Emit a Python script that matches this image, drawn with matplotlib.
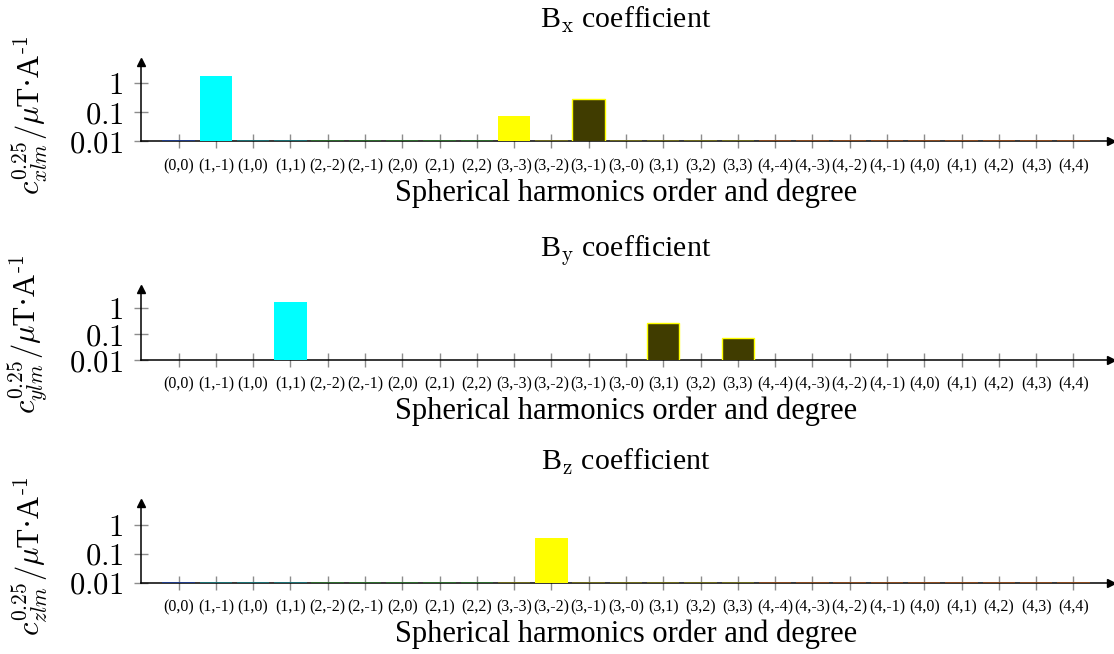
import numpy as np
import matplotlib
matplotlib.use("Agg")
import matplotlib.pyplot as plt

plt.rcParams['font.family'] = ['Liberation Serif', 'DejaVu Serif']
plt.rcParams['mathtext.fontset'] = 'cm'

# harmonics (l, m) labels
labels = ['(0,0)', '(1,-1)', '(1,0)', '(1,1)', '(2,-2)', '(2,-1)', '(2,0)', '(2,1)', '(2,2)',
          '(3,-3)', '(3,-2)', '(3,-1)', '(3,-0)', '(3,1)', '(3,2)', '(3,3)',
          '(4,-4)', '(4,-3)', '(4,-2)', '(4,-1)', '(4,0)', '(4,1)', '(4,2)', '(4,3)', '(4,4)']
degree = [0, 1, 1, 1, 2, 2, 2, 2, 2, 3, 3, 3, 3, 3, 3, 3, 4, 4, 4, 4, 4, 4, 4, 4, 4]

# coefficient values (tiny ones sit on the baseline)
tiny = 0.0108
bx = [tiny] * 25
bx[1] = 1.7
bx[9] = 0.073
bx[11] = 0.27
by = [0.0] * 25
by[3] = 1.8
by[13] = 0.28
by[15] = 0.069
bz = [tiny] * 25
bz[10] = 0.36

degree_colors = ['#1f3c88', '#1b6f72', '#2d6b2d', '#6e6a1c', '#8a4a1e']
highlight = {'cyan': '#00ffff', 'yellow': '#ffff00', 'dark': '#403c00'}

bx_col = [degree_colors[d] for d in degree]
bx_col[1], bx_col[9], bx_col[11] = highlight['cyan'], highlight['yellow'], highlight['dark']
by_col = [degree_colors[d] for d in degree]
by_col[3], by_col[13], by_col[15] = highlight['cyan'], highlight['dark'], highlight['dark']
bz_col = [degree_colors[d] for d in degree]
bz_col[10] = highlight['yellow']

panels = [
    ('x', bx, bx_col, [0.1268, 0.7839, 0.8702, 0.1217], 5.2),
    ('y', by, by_col, [0.1268, 0.4495, 0.8702, 0.1086], 5.6),
    ('z', bz, bz_col, [0.1268, 0.1090, 0.8702, 0.1214], 5.7),
]

ytick_vals = [0.01, 0.1, 1]
ytick_labels = ['$0.01$', '$0.1$', '$1$']

fig = plt.figure(figsize=(11.14, 6.54), dpi=100)
x = np.arange(len(labels))

for comp, vals, cols, rect, ymax in panels:
    ax = fig.add_axes(rect)
    ax.set_yscale('log')
    edges = ['#ffff00' if c == highlight['dark'] else 'none' for c in cols]
    ax.bar(x, vals, width=0.87, color=cols, edgecolor=edges, linewidth=1.0, zorder=3)
    ax.set_xlim(-1, 25)
    ax.set_ylim(0.01, ymax)
    ax.set_xticks(x)
    ax.set_xticklabels(labels, fontsize=11.5)
    ax.set_yticks(ytick_vals)
    ax.set_yticklabels(ytick_labels, fontsize=22)
    ax.minorticks_off()
    ax.tick_params(axis='both', direction='inout', length=10, width=1, color='#8c8c8c')
    ax.tick_params(axis='x', pad=7)
    ax.tick_params(axis='y', pad=8)
    for s in ['top', 'right']:
        ax.spines[s].set_visible(False)
    for s in ['left', 'bottom']:
        ax.spines[s].set_linewidth(1.1)
        ax.spines[s].set_zorder(2)
    ax.plot(1, 0, marker='>', ms=6, color='k', transform=ax.transAxes, clip_on=False)
    ax.plot(0, 1, marker='^', ms=6, color='k', transform=ax.transAxes, clip_on=False)
    ax.set_xlabel('Spherical harmonics order and degree', fontsize=22, labelpad=3)
    ax.set_title('B$_{\\rm %s}$ coefficient' % comp, fontsize=21.5, pad=24)
    ax.set_ylabel('$c^{0.25}_{%slm}/\\mu$T·A$^{\\text{-1}}$' % comp, fontsize=22)
    h_px = rect[3] * 654
    ax.yaxis.set_label_coords(-0.093, 26.0 / h_px)

fig.savefig('out.png', dpi=100)
